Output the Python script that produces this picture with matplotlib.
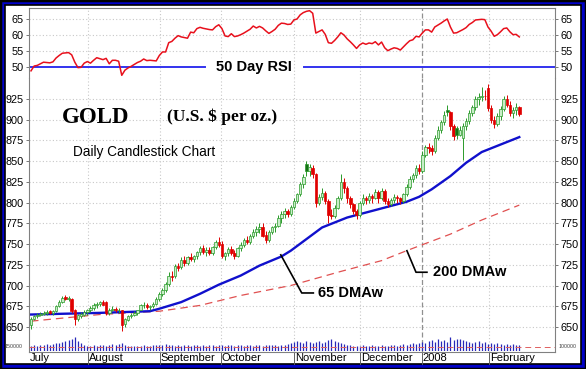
import matplotlib
matplotlib.use('Agg')
import matplotlib.pyplot as plt
from matplotlib.patches import Rectangle
import matplotlib.transforms as mtrans

# ---------------- data ----------------
# daily candles, July 2007 .. mid February 2008 (trading-day index)
open_ = [652, 660, 663, 665, 666, 667, 669, 667, 669, 675, 680, 686, 684, 684, 670, 660, 663, 665,
         668, 670, 673, 677, 678, 680, 680, 667, 671, 672, 670, 670, 653, 659, 663, 665, 667, 670, 676, 677, 674, 675, 678,
         684, 690, 695, 702, 712, 711, 723, 722, 731, 727, 734, 732, 735, 740, 745, 741, 743, 739, 746,
         752, 750, 736, 739, 744, 739, 736, 745, 749, 755, 752, 760, 765, 768, 771, 761, 755, 765, 770, 772, 782, 786, 790,
         786, 795, 802, 810, 822, 846, 838, 842, 834, 800, 807, 812, 802, 785, 784, 794, 805, 825, 818, 806, 798,
         790, 785, 800, 806, 803, 808, 806, 813, 805, 814, 802, 798, 803, 807, 805, 802, 810, 819, 829, 833,
         842, 838, 858, 867, 866, 862, 878, 888, 897, 912, 909, 892, 890, 882, 878, 892, 898, 908, 915, 925, 927, 929,
         938, 914, 900, 895, 905, 913, 925, 918, 908, 912, 915]
high = [662, 665, 667, 668, 669, 670, 671, 670, 677, 682, 687, 688, 687, 685, 672, 666, 668, 670,
        672, 675, 679, 680, 681, 682, 681, 673, 675, 674, 673, 671, 661, 665, 667, 669, 670, 678, 680, 679, 677, 680, 686,
        692, 697, 704, 716, 718, 726, 727, 734, 735, 736, 739, 737, 742, 748, 749, 746, 747, 748, 755,
        758, 754, 741, 746, 748, 743, 747, 752, 757, 760, 762, 768, 772, 775, 776, 766, 767, 772, 775, 785, 790, 793, 792,
        797, 805, 812, 825, 835, 850, 846, 845, 836, 810, 818, 814, 804, 792, 797, 808, 835, 830, 820, 808, 800,
        792, 802, 810, 808, 812, 810, 816, 815, 818, 816, 805, 806, 810, 809, 807, 812, 822, 832, 836, 845,
        846, 862, 870, 872, 870, 882, 892, 900, 910, 918, 911, 895, 893, 892, 896, 902, 912, 918, 928, 932, 940, 936,
        943, 918, 905, 908, 916, 928, 930, 922, 915, 920, 917]
low = [648, 658, 661, 663, 664, 665, 666, 665, 668, 674, 679, 682, 681, 667, 652, 657, 661, 663,
       665, 668, 671, 673, 675, 676, 665, 665, 669, 668, 667, 645, 650, 657, 661, 663, 664, 670, 673, 672, 671, 673, 676,
       681, 687, 692, 700, 706, 709, 718, 720, 724, 725, 729, 728, 732, 737, 738, 736, 737, 737, 744,
       746, 733, 731, 736, 737, 732, 734, 742, 746, 750, 750, 757, 760, 763, 758, 751, 753, 762, 764, 770, 776, 782, 783,
       784, 792, 800, 808, 818, 832, 832, 830, 795, 797, 803, 798, 776, 780, 782, 792, 803, 812, 800, 793, 786,
       780, 783, 797, 798, 800, 800, 804, 800, 803, 798, 795, 796, 800, 800, 798, 800, 808, 817, 825, 830,
       834, 836, 855, 860, 858, 860, 875, 884, 894, 905, 888, 876, 877, 880, 851, 888, 895, 904, 912, 918, 922, 924,
       910, 896, 890, 893, 900, 910, 915, 904, 902, 906, 904]
close = [660, 663, 665, 666, 667, 668, 667, 669, 675, 680, 685, 684, 684, 669, 660, 664, 666, 668,
         670, 673, 677, 678, 680, 677, 667, 671, 672, 670, 671, 652, 660, 663, 665, 667, 670, 677, 677, 674, 675, 678, 684,
         690, 695, 702, 712, 710, 723, 721, 731, 727, 734, 732, 735, 740, 745, 741, 743, 739, 746, 752,
         749, 736, 739, 744, 739, 736, 745, 749, 755, 752, 760, 765, 768, 771, 760, 755, 765, 770, 772, 782, 786, 790, 786,
         795, 802, 810, 822, 831, 838, 843, 834, 800, 807, 812, 802, 785, 784, 794, 805, 825, 818, 806, 798, 790,
         785, 800, 806, 803, 808, 806, 813, 805, 814, 802, 798, 803, 807, 805, 802, 810, 819, 829, 833, 842,
         838, 858, 867, 866, 862, 878, 888, 897, 906, 909, 892, 880, 882, 888, 892, 898, 908, 915, 925, 927, 929, 928,
         914, 900, 895, 905, 913, 925, 918, 908, 912, 915, 907]

rsi = [48.8, 50.3, 50.5, 51.0, 51.5, 51.4, 51.3, 51.6, 52.8, 53.6, 54.3, 54.4, 54.5, 53.8, 51.5, 49.8, 49.9, 51.2,
       51.7, 51.2, 52.1, 52.9, 52.6, 52.3, 52.7, 51.0, 52.1, 52.1, 51.8, 47.4, 49.0, 49.7, 50.2, 50.8, 51.4, 51.8,
       52.5, 52.0, 52.1, 52.0, 51.9, 53.6, 54.7, 54.7, 57.6, 58.0, 59.0, 59.8, 59.4, 59.2, 59.0, 60.9, 60.7, 62.0,
       62.4, 62.1, 61.9, 61.7, 61.6, 62.6, 63.2, 62.0, 59.7, 59.5, 60.4, 59.5, 59.7, 60.1, 60.6, 61.2, 61.8, 62.8,
       62.2, 62.7, 62.2, 61.3, 60.5, 61.1, 61.8, 63.0, 63.7, 63.6, 63.3, 63.4, 64.7, 65.0, 66.3, 67.0, 67.4, 67.6,
       66.8, 60.6, 61.1, 61.6, 60.2, 57.6, 57.4, 58.3, 59.4, 60.7, 60.0, 58.8, 57.9, 56.9, 55.8, 56.9, 57.5, 57.1,
       57.5, 57.3, 57.9, 56.9, 57.8, 56.0, 55.1, 55.6, 56.0, 55.8, 55.3, 56.3, 57.3, 58.2, 58.5, 59.6, 59.4, 60.6,
       61.6, 61.6, 60.9, 62.5, 63.1, 63.7, 64.4, 65.0, 62.5, 60.6, 60.7, 61.2, 61.7, 62.3, 63.3, 63.9, 64.7, 64.8,
       64.9, 64.8, 62.5, 61.2, 59.6, 60.1, 61.0, 62.0, 62.2, 61.0, 60.1, 60.2, 59.4]

ma65_day = [0, 22, 38, 41, 48, 54, 60, 67, 73, 80, 83, 88, 93, 101, 105, 115, 120, 124, 128, 134, 139, 144, 150, 156]
ma65_val = [665, 667, 669, 672, 680, 690, 701, 712, 724, 735, 742, 756, 770, 782, 786, 796, 801, 807, 816, 832,
            848, 861, 870, 879]
ma200_day = [0, 22, 41, 54, 67, 83, 99, 112, 120, 134, 144, 156]
ma200_val = [657, 665, 669, 676, 688, 700, 717, 730, 742, 762, 779, 797]

# volume (thousands of contracts, rough)
volume = [50, 60, 50, 60, 60, 70, 60, 70, 80, 80, 90, 100, 110, 120, 140, 100, 80, 60,
          50, 50, 60, 50, 60, 60, 50, 60, 70, 60, 70, 80, 60, 50, 50, 50, 50, 50, 60, 50, 50, 60, 60,
          60, 60, 70, 60, 60, 50, 60, 50, 60, 60, 50, 60, 60, 50, 60, 50, 60, 60, 50,
          60, 60, 50, 60, 60, 50, 60, 60, 50, 60, 60, 50, 60, 60, 50, 60, 60, 60, 60, 50, 60, 60, 70,
          80, 90, 100, 90, 80, 100, 90, 80, 90, 100, 80, 90, 110, 120, 100, 90, 80, 70, 60, 60, 50,
          50, 50, 60, 50, 50, 60, 50, 50, 60, 50, 50, 60, 60, 50, 60, 70, 60, 70, 80, 70,
          80, 90, 80, 100, 110, 90, 120, 100, 110, 90, 140, 110, 120, 120, 110, 100, 90, 80, 90, 100, 80, 90,
          70, 80, 70, 80, 70, 60, 70, 60, 70, 60, 60]
vol_avg = 40

month_labels = ['July', 'August', 'September', 'October', 'November', 'December', '2008', 'February']
month_pos = [-0.6, 18.2, 41.2, 60.7, 84.0, 105.1, 124.9, 146.3]
price_ticks = [650, 675, 700, 725, 750, 775, 800, 825, 850, 875, 900, 925]
rsi_ticks = [50, 55, 60, 65]

# ---------------- figure ----------------
W, H = 586, 369
fig = plt.figure(figsize=(W / 100, H / 100), dpi=100)
fig.patch.set_facecolor('#0000c8')
plt.rcParams['font.family'] = 'Liberation Sans'


def fx(x):
    return x / W


def fy(y):
    return 1 - y / H


fig.patches.append(Rectangle((0, 0), 1, 1, transform=fig.transFigure, facecolor='none',
                             edgecolor='black', lw=2.5, zorder=-6))
fig.patches.append(Rectangle((fx(5), fy(364)), fx(581) - fx(5), fy(5) - fy(364), transform=fig.transFigure,
                             facecolor='white', edgecolor='black', lw=1.2, zorder=-5))

L, R = 29, 555
x_lo = -0.64
x_hi = x_lo + (R - L) / 3.13

ax_r = fig.add_axes([fx(L), fy(78), fx(R) - fx(L), fy(8) - fy(78)])
ax_p = fig.add_axes([fx(L), fy(352), fx(R) - fx(L), fy(78) - fy(352)])
ax_v = fig.add_axes([fx(L), fy(351), fx(R) - fx(L), 22 / H])

grid_kw = dict(color='#c8c8c8', lw=0.8, ls=(0, (1, 2)))
spine_c = '#808080'

# RSI panel
ax_r.set_xlim(x_lo, x_hi)
ax_r.set_ylim(46.56, 68.44)
for v in [55, 60, 65]:
    ax_r.axhline(v, zorder=1, **grid_kw)
ax_r.plot(range(len(rsi)), rsi, color='#e8101c', lw=1.1, zorder=3)
ax_r.plot([x_lo, 55.6], [50, 50], color='#3333ee', lw=1.4, zorder=2)
ax_r.plot([87.2, x_hi], [50, 50], color='#3333ee', lw=1.4, zorder=2)
ax_r.text(71.2, 50, '50 Day RSI', ha='center', va='center', fontsize=10.5, fontweight='bold',
          color='black', zorder=4)
ax_r.set_yticks(rsi_ticks)
ax_r.set_xticks([])
ax_r.spines['bottom'].set_visible(False)

# price panel
ax_p.set_xlim(x_lo, x_hi)
ax_p.set_ylim(619.8, 950.3)
for v in price_ticks:
    ax_p.axhline(v, zorder=1, **grid_kw)
ax_p.set_yticks(price_ticks)
ax_p.spines['top'].set_visible(False)

for a in (ax_r, ax_p):
    for p in month_pos[1:]:
        if p == 124.9:
            a.axvline(p, color='#909090', lw=0.9, ls=(0, (4, 2)), zorder=1)
        else:
            a.axvline(p, zorder=1, **grid_kw)
    a.tick_params(axis='y', labelleft=True, labelright=True, left=True, right=True,
                  labelsize=7.8, length=2.5, width=0.6, color='#606060', pad=1.5)
    for s in a.spines.values():
        s.set_color(spine_c)
        s.set_linewidth(0.8)
    a.set_facecolor('none')

# moving averages
ax_p.plot(ma200_day, ma200_val, color='#e05050', lw=0.9, ls=(0, (6, 4)), zorder=2)
ax_p.plot(ma65_day, ma65_val, color='#1010cc', lw=1.7, zorder=2)

# candles
for i, (o, h, lo, c) in enumerate(zip(open_, high, low, close)):
    prev = close[i - 1] if i > 0 else o
    up = c >= prev
    col = '#2a9a2a' if up else '#e00000'
    hollow = c >= o
    fc = ('#c8eec8' if up else '#f8c0c0') if hollow else ('#157015' if up else '#e00000')
    ax_p.vlines(i, lo, h, color=col, lw=0.7, zorder=3)
    bot = min(o, c)
    ht = max(abs(c - o), 0.8)
    ax_p.bar(i, ht, bottom=bot, width=0.8, facecolor=fc, edgecolor=col, lw=0.5, zorder=4)

# x labels
ax_p.set_xticks([])
trans_lab = mtrans.blended_transform_factory(ax_p.transData, fig.transFigure)
for lab, p in zip(month_labels, month_pos):
    ax_p.text(p + 0.3, fy(358), lab, transform=trans_lab, ha='left', va='center', fontsize=8, clip_on=False)
    if p > 0:
        ax_p.plot([p, p], [fy(352), fy(364)], transform=trans_lab, color='#606060', lw=0.7, clip_on=False)

# volume
ax_v.set_xlim(x_lo, x_hi)
ax_v.set_ylim(0, 220)
ax_v.axis('off')
ax_v.vlines(range(len(volume)), 0, volume, color='#2828b8', lw=0.9)
ax_v.axhline(vol_avg, color='#e06060', lw=0.7, ls=(0, (6, 4)))
ax_v.text(-0.012, vol_avg + 5, '150000', transform=mtrans.blended_transform_factory(ax_v.transAxes, ax_v.transData),
          ha='right', va='center', fontsize=3.8, color='#404040')
ax_v.text(1.006, vol_avg + 5, '100000', transform=mtrans.blended_transform_factory(ax_v.transAxes, ax_v.transData),
          ha='left', va='center', fontsize=3.8, color='#404040')

# annotations
ax_p.text(20.8, 903, 'GOLD', fontsize=16.5, fontweight='bold', family='Liberation Serif',
          ha='center', va='center')
ax_p.text(43.5, 903, '(U.S. $ per oz.)', fontsize=12.5, fontweight='bold', family='Liberation Serif',
          ha='left', va='center')
ax_p.text(13.4, 861, 'Daily Candlestick Chart', fontsize=9.8, ha='left', va='center')
ax_p.plot([79.8, 86.5, 90.2], [737, 691, 691], color='black', lw=1.2)
ax_p.text(91.7, 691, '65 DMAw', fontsize=10.5, fontweight='bold', ha='left', va='center')
ax_p.plot([120.1, 123, 126.5], [742, 716, 716], color='black', lw=1.2)
ax_p.text(128.4, 716, '200 DMAw', fontsize=10.5, fontweight='bold', ha='left', va='center')

fig.savefig('out.png', dpi=100, facecolor=fig.get_facecolor())
